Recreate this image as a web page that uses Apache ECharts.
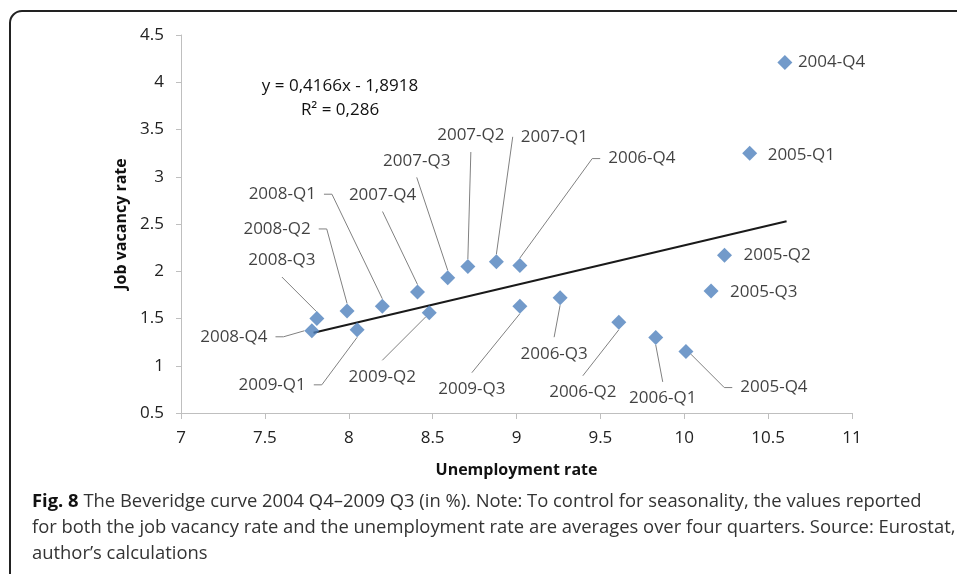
<!DOCTYPE html>
<html>
<head>
<meta charset="utf-8">
<script src="https://cdn.jsdelivr.net/npm/echarts@6/dist/echarts.min.js"></script>
<style>
html,body{margin:0;padding:0;background:#fff;}
#chart{width:957px;height:574px;}
</style>
</head>
<body>
<div id="chart"></div>
<script>
// ---- data ----
var periods = ['2004-Q4','2005-Q1','2005-Q2','2005-Q3','2005-Q4','2006-Q1','2006-Q2','2006-Q3','2006-Q4','2007-Q1',
               '2007-Q2','2007-Q3','2007-Q4','2008-Q1','2008-Q2','2008-Q3','2008-Q4','2009-Q1','2009-Q2','2009-Q3'];
var unemployment = [10.60, 10.39, 10.24, 10.16, 10.01, 9.83, 9.61, 9.26, 9.02, 8.88,
                    8.71, 8.59, 8.41, 8.20, 7.99, 7.81, 7.78, 8.05, 8.48, 9.02];
var vacancy = [4.21, 3.25, 2.17, 1.79, 1.15, 1.30, 1.46, 1.72, 2.06, 2.10,
               2.05, 1.93, 1.78, 1.63, 1.58, 1.50, 1.37, 1.38, 1.56, 1.63];
var trendX = [7.79, 10.61];
var trendY = [1.35, 2.53];
var xTicks = [7, 11, 0.5];      // min, max, interval
var yTicks = [0.5, 4.5, 0.5];
var equationText = ['y = 0,4166x - 1,8918', 'R\u00B2 = 0,286'];
var xTitle = 'Unemployment rate';
var yTitle = 'Job vacancy rate';
var captionBold = 'Fig. 8';
var captionLines = [' The Beveridge curve 2004 Q4\u20132009 Q3 (in %). Note: To control for seasonality, the values reported',
  'for both the job vacancy rate and the unemployment rate are averages over four quarters. Source: Eurostat,',
  'author\u2019s calculations'];

// ---- label placement: offset of label centre from its point, leader kind, stub length ----
var labelPlacement = [
  [13, 0, 'none', 0], [18, 2, 'none', 0], [19, 0, 'none', 0], [19, 1, 'none', 0],
  [88, 36, 'side', 8], [7, 61, 'vert', 0], [-36, 70, 'vert', 0], [-6, 56, 'vert', 0],
  [122, -107, 'side', 8], [58, -125, 'side', 0], [3, -131, 'vert', 0], [-31, -117, 'vert', 0],
  [-35, -97, 'vert', 0], [-100, -112, 'side', 8], [-70, -82, 'side', 8], [-35, -58, 'vert', 0],
  [-78, 6, 'side', 8], [-85, 55, 'side', 8], [-47, 64, 'vert', 0], [-48, 83, 'vert', 0]
];

var FONT = '"Open Sans", sans-serif';
var chart = echarts.init(document.getElementById('chart'), null, {renderer: 'canvas'});

var scatterData = periods.map(function (p, i) {
  var c = labelPlacement[i];
  var kind = c[2];
  var pad = kind === 'vert' ? [8, 40, 8, 40] : (kind === 'side' ? [0, 8, 0, 8] : 0);
  return {
    name: p,
    value: [unemployment[i], vacancy[i]],
    label: {padding: pad, backgroundColor: kind === 'none' ? null : 'rgba(255,255,255,0)'},
    labelLine: {show: kind !== 'none', length2: c[3]}
  };
});

var option = {
  animation: false,
  grid: {left: 181, right: 105, top: 35, bottom: 161, containLabel: false},
  xAxis: {
    type: 'value', min: xTicks[0], max: xTicks[1], interval: xTicks[2],
    name: xTitle, nameLocation: 'middle', nameGap: 49,
    nameTextStyle: {fontFamily: FONT, fontWeight: 'bold', fontSize: 16, color: '#111'},
    axisLine: {show: true, lineStyle: {color: '#bfbfbf', width: 1}},
    axisTick: {show: true, length: 6, lineStyle: {color: '#bfbfbf'}},
    axisLabel: {fontFamily: FONT, fontSize: 17, color: '#222', margin: 17},
    splitLine: {show: false}
  },
  yAxis: {
    type: 'value', min: yTicks[0], max: yTicks[1], interval: yTicks[2],
    name: yTitle, nameLocation: 'middle', nameGap: 50,
    nameTextStyle: {fontFamily: FONT, fontWeight: 'bold', fontSize: 16, color: '#111'},
    axisLine: {show: true, lineStyle: {color: '#bfbfbf', width: 1}},
    axisTick: {show: true, length: 5, lineStyle: {color: '#bfbfbf'}},
    axisLabel: {fontFamily: FONT, fontSize: 17, color: '#222', margin: 17},
    splitLine: {show: false}
  },
  series: [
    {
      type: 'line',
      data: trendX.map(function (x, i) { return [x, trendY[i]]; }),
      showSymbol: false, symbol: 'none',
      lineStyle: {color: '#1a1a1a', width: 2},
      silent: true, z: 2
    },
    {
      type: 'scatter',
      data: scatterData,
      symbol: 'diamond', symbolSize: 15,
      itemStyle: {color: '#4F81BD'},
      z: 3,
      label: {
        show: true, position: 'inside', formatter: '{b}',
        fontFamily: FONT, fontSize: 17, color: '#111'
      },
      labelLine: {show: true, lineStyle: {color: '#808080', width: 1}},
      labelLayout: function (p) {
        var c = labelPlacement[p.dataIndex];
        if (c[2] === 'none') return {dx: c[0] + p.labelRect.width / 2, dy: c[1]};
        return {dx: c[0], dy: c[1]};
      }
    }
  ],
  graphic: [
    {type: 'rect', shape: {x: 10, y: 11, width: 1000, height: 620, r: 12},
     style: {fill: 'none', stroke: '#222', lineWidth: 2}, silent: true},
    {type: 'text', x: 340, y: 86, style: {text: equationText[0], font: '17px ' + FONT, fill: '#111', textAlign: 'center', textVerticalAlign: 'middle'}},
    {type: 'text', x: 340, y: 110, style: {text: equationText[1], font: '17px ' + FONT, fill: '#111', textAlign: 'center', textVerticalAlign: 'middle'}},
    {type: 'text', x: 32, y: 489, style: {
      text: '{b|' + captionBold + '}{n|' + captionLines[0] + '}\n{n|' + captionLines[1] + '}\n{n|' + captionLines[2] + '}',
      rich: {
        b: {font: 'bold 18.4px "Open Sans", sans-serif', fill: '#111', lineHeight: 26},
        n: {font: '18.4px "Open Sans", sans-serif', fill: '#333', lineHeight: 26}
      }
    }}
  ]
};
chart.setOption(option);
</script>
</body>
</html>
